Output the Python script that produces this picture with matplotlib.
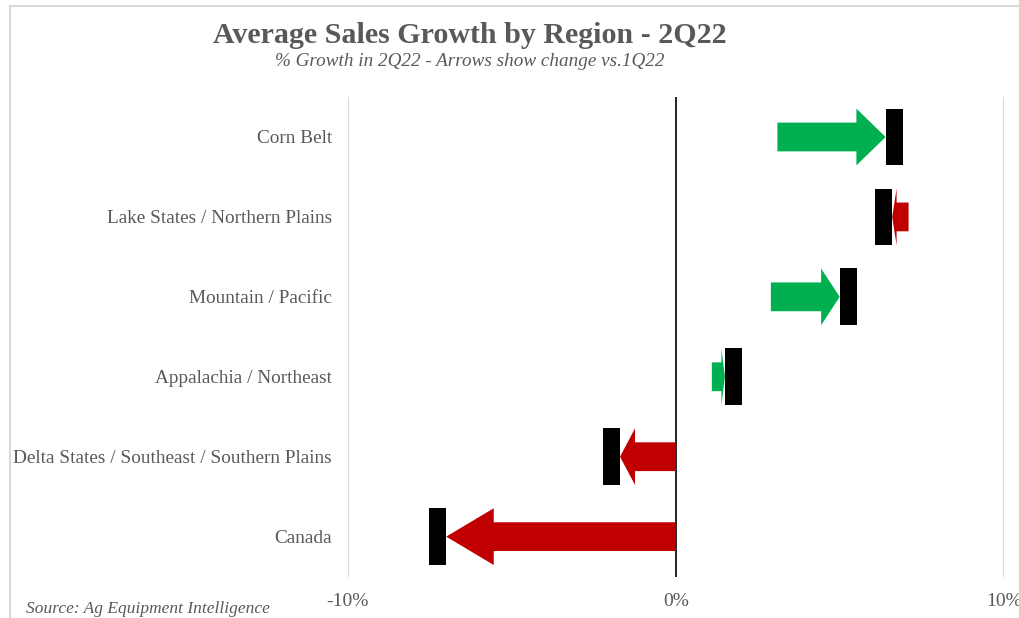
import numpy as np
import matplotlib.pyplot as plt
from matplotlib.patches import Polygon, Rectangle
from matplotlib.lines import Line2D

# growth (%) by region, 1Q22 = arrow start, 2Q22 = arrow end
regions = ['Corn Belt', 'Lake States / Northern Plains', 'Mountain / Pacific',
           'Appalachia / Northeast', 'Delta States / Southeast / Southern Plains',
           'Canada']
growth_1q22 = [3.1, 7.1, 2.9, 1.1, 0.0, 0.0]
growth_2q22 = [6.4, 6.6, 5.0, 1.5, -1.7, -7.0]
tick_vals = [-10, 0, 10]
tick_labels = ['-10%', '0%', '10%']

GREEN = '#00B050'
RED = '#C00000'
GREY = '#595959'

plt.rcParams['font.family'] = ['Liberation Serif', 'DejaVu Serif']

fig = plt.figure(figsize=(10.2, 6.18), dpi=100)
ax = fig.add_axes([0.341, 0.067, 0.643, 0.776])

n = len(regions)
y = np.arange(n)[::-1]

bar_h = 0.71     # black marker / arrow head height (in band units)
shaft_h = 0.36
marker_w = 0.52  # width of black marker in %

for yi, start, end in zip(y, growth_1q22, growth_2q22):
    d = end - start
    sign = 1 if d >= 0 else -1
    length = abs(d)
    head = min(0.27 * length, 1.45)
    color = GREEN if d >= 0 else RED
    hb = end - sign * head
    pts = [(start, yi - shaft_h / 2), (hb, yi - shaft_h / 2), (hb, yi - bar_h / 2),
           (end, yi), (hb, yi + bar_h / 2), (hb, yi + shaft_h / 2),
           (start, yi + shaft_h / 2)]
    ax.add_patch(Polygon(pts, closed=True, facecolor=color, edgecolor='none', zorder=3))
    # black marker for 2Q22 sitting at the arrow tip
    x0 = end if sign > 0 else end - marker_w
    ax.add_patch(Rectangle((x0, yi - bar_h / 2), marker_w, bar_h,
                           facecolor='black', edgecolor='none', zorder=4))

ax.axvline(0, color='black', lw=1.2, zorder=2)
for v in (-10, 10):
    ax.axvline(v, color='#D9D9D9', lw=1.5, zorder=1)

ax.set_xlim(-10, 10)
ax.set_ylim(-0.5, n - 0.5)
ax.set_xticks(tick_vals)
ax.set_xticklabels(tick_labels, fontsize=14, color=GREY)
ax.set_yticks(y)
ax.set_yticklabels(regions, fontsize=13.9, color=GREY)
ax.tick_params(axis='both', length=0)
ax.tick_params(axis='x', pad=12)
ax.tick_params(axis='y', pad=11.5)
for s in ax.spines.values():
    s.set_visible(False)

fig.text(0.461, 0.942, 'Average Sales Growth by Region - 2Q22', ha='center',
         va='center', fontsize=21.6, fontweight='bold', color=GREY)
fig.text(0.461, 0.900, '% Growth in 2Q22 - Arrows show change vs.1Q22', ha='center',
         va='center', fontsize=13.8, style='italic', color=GREY)
fig.text(0.025, 0.014, 'Source: Ag Equipment Intelligence', ha='left', va='center',
         fontsize=12.5, style='italic', color=GREY)

# chart frame (top and left edges visible)
fig.add_artist(Line2D([10 / 1020, 1], [1 - 6 / 618, 1 - 6 / 618],
                      transform=fig.transFigure, color='#D9D9D9', lw=1.5))
fig.add_artist(Line2D([10 / 1020, 10 / 1020], [0, 1 - 6 / 618],
                      transform=fig.transFigure, color='#D9D9D9', lw=1.5))

fig.savefig('out.png', dpi=100)
